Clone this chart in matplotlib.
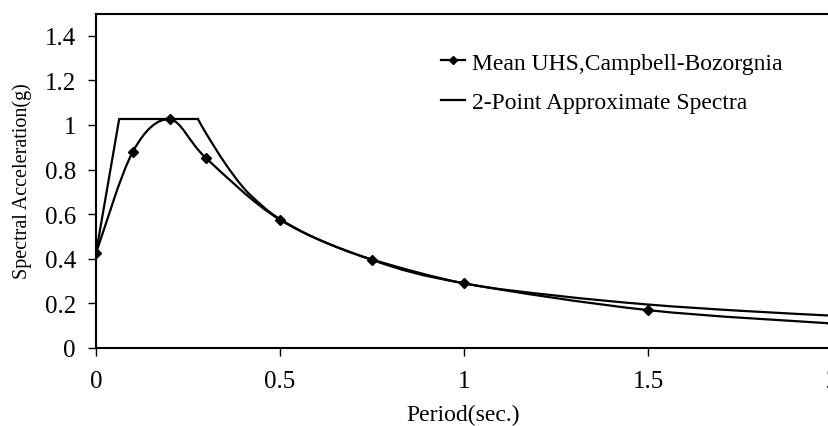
import numpy as np
import matplotlib
matplotlib.use("Agg")
import matplotlib.pyplot as plt
from matplotlib.path import Path
from matplotlib.patches import PathPatch
from matplotlib.lines import Line2D

# Mean UHS (Campbell-Bozorgnia), marker points
uhs_period = [0.0, 0.1, 0.2, 0.3, 0.5, 0.75, 1.0, 1.5, 2.0]
uhs_sa = [0.425, 0.88, 1.025, 0.85, 0.575, 0.395, 0.29, 0.17, 0.11]

# 2-point approximate spectra
apx_period = [0.0, 0.063, 0.277, 0.3, 0.35, 0.4, 0.45, 0.5, 0.6, 0.75,
              1.0, 1.25, 1.5, 1.75, 2.0]
apx_sa = [0.425, 1.027, 1.027, 0.96, 0.83, 0.72, 0.64, 0.578, 0.49, 0.397,
          0.29, 0.235, 0.195, 0.167, 0.145]
apx_corner = 2   # last point of the straight part

x_ticks = [0, 0.5, 1, 1.5, 2]
x_tick_labels = ["0", "0.5", "1", "1.5", "2"]
y_ticks = [0, 0.2, 0.4, 0.6, 0.8, 1.0, 1.2, 1.4]
y_tick_labels = ["0", "0.2", "0.4", "0.6", "0.8", "1", "1.2", "1.4"]

plt.rcParams['font.family'] = ['Liberation Serif', 'DejaVu Serif']


def smooth_path(xs, ys):
    # excel-style smoothed line: cubic bezier through the points
    pts = np.column_stack([xs, ys])
    n = len(pts)
    verts = [pts[0]]
    codes = [Path.MOVETO]
    for i in range(n - 1):
        p0 = pts[i - 1] if i > 0 else pts[i]
        p1 = pts[i]
        p2 = pts[i + 1]
        p3 = pts[i + 2] if i + 2 < n else pts[i + 1]
        c1 = p1 + (p2 - p0) / 6.0
        c2 = p2 - (p3 - p1) / 6.0
        verts += [c1, c2, p2]
        codes += [Path.CURVE4] * 3
    return Path(verts, codes)


fig = plt.figure(figsize=(8.29, 4.27), dpi=100)
ax = fig.add_axes([96 / 829, 78 / 427, 736 / 829, 334.5 / 427])

ax.add_patch(PathPatch(smooth_path(uhs_period, uhs_sa), fill=False,
                       edgecolor='k', lw=1.6, capstyle='round'))
ax.plot(uhs_period, uhs_sa, ls='none', marker='D', ms=5, color='k')

ax.plot(apx_period[:apx_corner + 1], apx_sa[:apx_corner + 1], color='k', lw=1.6)
ax.add_patch(PathPatch(smooth_path(apx_period[apx_corner:], apx_sa[apx_corner:]),
                       fill=False, edgecolor='k', lw=1.6, capstyle='round'))

ax.set_xlim(0, 2)
ax.set_ylim(0, 1.5)
ax.set_xticks(x_ticks)
ax.set_xticklabels(x_tick_labels)
ax.set_yticks(y_ticks)
ax.set_yticklabels(y_tick_labels)
ax.tick_params(direction='out', length=5.5, width=1, labelsize=18)
ax.tick_params(axis='y', pad=9)
ax.tick_params(axis='x', pad=10)
for s in ['left', 'bottom', 'top']:
    ax.spines[s].set_linewidth(1.5)
ax.spines['right'].set_visible(False)

fig.text(463 / 829, 1 - 415 / 427, "Period(sec.)", ha='center', va='center', fontsize=17)
fig.text(22 / 829, 1 - 181 / 427, "Spectral Acceleration(g)", ha='center', va='center',
         fontsize=14.5, rotation=90)

handles = [
    Line2D([], [], color='k', lw=1.6, marker='D', ms=4),
    Line2D([], [], color='k', lw=1.6),
]
ax.legend(handles, ["Mean UHS,Campbell-Bozorgnia", "2-Point Approximate Spectra"],
          loc='upper left', bbox_to_anchor=(441 / 829, 1 - 53 / 427),
          bbox_transform=fig.transFigure, frameon=False, fontsize=17,
          handlelength=1.0, handletextpad=0.3, labelspacing=0.77,
          borderaxespad=0, borderpad=0)

fig.savefig("out.png", dpi=100)
